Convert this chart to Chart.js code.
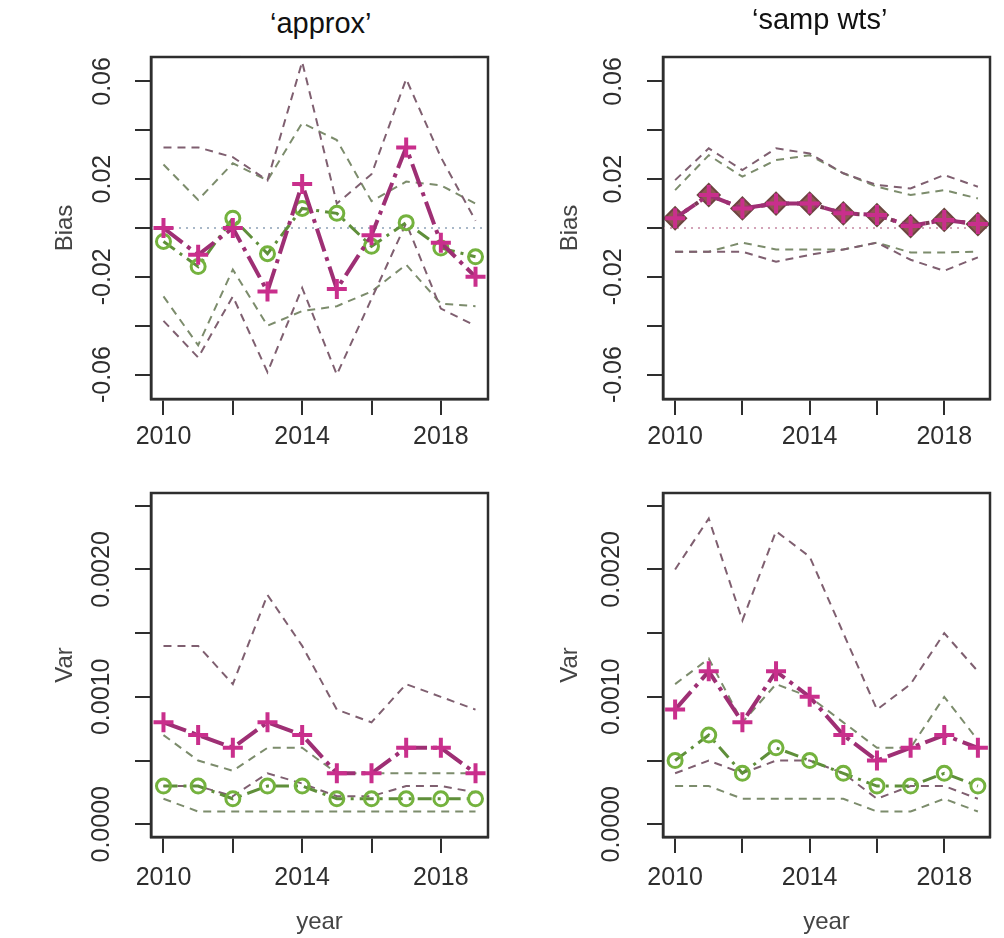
<!DOCTYPE html>
<html>
<head>
<meta charset="utf-8">
<script src="https://cdn.jsdelivr.net/npm/chart.js@4.4.1/dist/chart.umd.min.js"></script>
<style>
  html, body { margin: 0; padding: 0; background: #fff; }
  #wrap { position: relative; width: 1004px; height: 938px; background: #fff; overflow: hidden; }
  canvas { position: absolute; }
  .box { position: absolute; background: #fff; }
  .ttl { position: absolute; font-family: "Liberation Sans", Arial, sans-serif; color: #111; white-space: nowrap; }
</style>
</head>
<body>
<div id="wrap">
  <canvas id="cTL" width="502" height="470" style="left:0;top:0"></canvas>
  <canvas id="cTR" width="502" height="470" style="left:502px;top:0"></canvas>
  <canvas id="cBL" width="502" height="468" style="left:0;top:470px"></canvas>
  <canvas id="cBR" width="502" height="468" style="left:502px;top:470px"></canvas>
  <div class="box" style="left:241px;top:0;width:212px;height:56px;border-bottom:1px solid #cfcfcf;box-sizing:border-box;"></div>
  <div id="t1" class="ttl" style="left:270px;top:4px;font-size:29px;line-height:38px;"></div>
  <div id="t2" class="ttl" style="left:752px;top:0px;font-size:29px;line-height:38px;"></div>
</div>
<script>
// ---------------- data ----------------
const years = [2010, 2011, 2012, 2013, 2014, 2015, 2016, 2017, 2018, 2019];

const xTicks = [2010, 2012, 2014, 2016, 2018];
const xTickLabels = ['2010', '', '2014', '', '2018'];

const biasTicks = [-0.06, -0.04, -0.02, 0, 0.02, 0.04, 0.06];
const biasTickLabels = ['-0.06', '', '-0.02', '', '0.02', '', '0.06'];
const varTicks = [0, 0.0005, 0.001, 0.0015, 0.002, 0.0025];
const varTickLabels = ['0.0000', '', '0.0010', '', '0.0020', ''];

const panelTitles = ['‘approx’', '‘samp wts’'];
const yTitles = ['Bias', 'Var'];
const xTitle = 'year';

// 'approx' - Bias
const approxBiasPink    = [0.000, -0.011, 0.000, -0.026, 0.018, -0.025, -0.003, 0.033, -0.006, -0.020];
const approxBiasPinkHi  = [0.033, 0.033, 0.029, 0.0195, 0.068, 0.010, 0.022, 0.061, 0.029, 0.003];
const approxBiasPinkLo  = [-0.038, -0.053, -0.028, -0.059, -0.0245, -0.060, -0.029, 0.002, -0.033, -0.040];
const approxBiasGreen   = [-0.0055, -0.0158, 0.004, -0.0105, 0.008, 0.006, -0.0075, 0.0022, -0.0082, -0.0118];
const approxBiasGreenHi = [0.026, 0.0115, 0.0265, 0.0195, 0.043, 0.036, 0.011, 0.019, 0.0175, 0.010];
const approxBiasGreenLo = [-0.028, -0.048, -0.017, -0.040, -0.034, -0.032, -0.026, -0.015, -0.031, -0.032];

// 'samp wts' - Bias
const sampBiasPink    = [0.004, 0.0135, 0.008, 0.010, 0.010, 0.006, 0.0053, 0.0008, 0.0033, 0.0016];
const sampBiasPinkHi  = [0.0196, 0.0326, 0.0237, 0.0326, 0.0305, 0.0224, 0.0176, 0.0162, 0.0217, 0.0169];
const sampBiasPinkLo  = [-0.0097, -0.0097, -0.0097, -0.0138, -0.011, -0.0088, -0.006, -0.013, -0.0175, -0.012];
const sampBiasGreen   = [0.004, 0.0135, 0.008, 0.010, 0.010, 0.006, 0.0053, 0.0008, 0.0033, 0.0016];
const sampBiasGreenHi = [0.0155, 0.0298, 0.021, 0.0278, 0.0298, 0.0224, 0.0169, 0.0135, 0.0155, 0.0121];
const sampBiasGreenLo = [-0.0097, -0.0097, -0.006, -0.0088, -0.0088, -0.0088, -0.006, -0.010, -0.010, -0.0097];

// 'approx' - Var
const approxVarPink    = [0.0008, 0.0007, 0.0006, 0.0008, 0.0007, 0.0004, 0.0004, 0.0006, 0.0006, 0.0004];
const approxVarPinkHi  = [0.0014, 0.0014, 0.0011, 0.0018, 0.0014, 0.0009, 0.0008, 0.0011, 0.0010, 0.0009];
const approxVarPinkLo  = [0.0003, 0.0003, 0.00022, 0.0004, 0.00032, 0.00022, 0.00022, 0.0003, 0.0003, 0.00025];
const approxVarGreen   = [0.0003, 0.0003, 0.0002, 0.0003, 0.0003, 0.0002, 0.0002, 0.0002, 0.0002, 0.0002];
const approxVarGreenHi = [0.0007, 0.0005, 0.00042, 0.0006, 0.0006, 0.0004, 0.0004, 0.0004, 0.0004, 0.0004];
const approxVarGreenLo = [0.0002, 0.0001, 0.0001, 0.0001, 0.0001, 0.0001, 0.0001, 0.0001, 0.0001, 0.0001];

// 'samp wts' - Var
const sampVarPink    = [0.0009, 0.0012, 0.0008, 0.0012, 0.0010, 0.0007, 0.0005, 0.0006, 0.0007, 0.0006];
const sampVarPinkHi  = [0.0020, 0.0024, 0.0016, 0.0023, 0.0021, 0.0015, 0.0009, 0.0011, 0.0015, 0.0012];
const sampVarPinkLo  = [0.0004, 0.0005, 0.0004, 0.0005, 0.0005, 0.0004, 0.0002, 0.0003, 0.0003, 0.0002];
const sampVarGreen   = [0.0005, 0.0007, 0.0004, 0.0006, 0.0005, 0.0004, 0.0003, 0.0003, 0.0004, 0.0003];
const sampVarGreenHi = [0.0011, 0.0013, 0.0008, 0.0011, 0.0010, 0.0008, 0.0006, 0.0006, 0.0010, 0.00066];
const sampVarGreenLo = [0.0003, 0.0003, 0.0002, 0.0002, 0.0002, 0.0002, 0.0001, 0.0001, 0.0002, 0.0001];

const zeroLine = 0;

document.getElementById('t1').textContent = panelTitles[0];
document.getElementById('t2').textContent = panelTitles[1];

// ---------------- styling ----------------
const FONT = '"Liberation Sans", Arial, sans-serif';
const AX = '#2e2e2e';
const PINK_LINE = '#9e2f74';
const PINK_MARK = '#c92f8c';
const GREEN_LINE = '#5f8f3a';
const GREEN_MARK = '#74b23e';
const PINK_BOUND = '#7f5f70';
const GREEN_BOUND = '#7c8c6c';

const xMin = 2009.64, xMax = 2019.36;

function pts(arr) { return years.map((y, i) => ({ x: y, y: arr[i] })); }

function boundDs(arr, color, order) {
  return { data: pts(arr), borderColor: color, borderWidth: 2, borderDash: [8, 6],
           pointRadius: 0, fill: false, tension: 0, order: order };
}
function pinkDs(arr) {
  return { data: pts(arr), borderColor: PINK_LINE, borderWidth: 4, borderDash: [24, 6, 4, 6],
           pointStyle: 'cross', pointRadius: 10, pointBorderWidth: 4, pointBorderColor: PINK_MARK,
           pointBackgroundColor: PINK_MARK, fill: false, tension: 0, order: 0 };
}
function greenDs(arr, diamond) {
  if (diamond) {
    return { data: pts(arr), borderColor: '#7a3a55', borderWidth: 4, borderDash: [4, 8],
             pointStyle: 'rectRot', pointRadius: 11, pointBorderWidth: 2, pointBorderColor: '#6b4640',
             pointBackgroundColor: '#8e5752', fill: false, tension: 0, order: 1 };
  }
  return { data: pts(arr), borderColor: GREEN_LINE, borderWidth: 3, borderDash: [14, 6, 3, 6],
           pointStyle: 'circle', pointRadius: 7, pointBorderWidth: 3, pointBorderColor: GREEN_MARK,
           pointBackgroundColor: 'rgba(255,255,255,0)', fill: false, tension: 0, order: 1 };
}

function framePlugin(cfg) {
  return {
    id: 'frame',
    beforeDatasetsDraw(chart) {
      if (cfg.zero) {
        const { ctx, chartArea: a, scales } = chart;
        const y = scales.y.getPixelForValue(zeroLine);
        ctx.save();
        ctx.strokeStyle = cfg.zeroColor;
        ctx.lineWidth = 2;
        ctx.setLineDash([2, 5]);
        ctx.beginPath(); ctx.moveTo(a.left, y); ctx.lineTo(a.right, y); ctx.stroke();
        ctx.restore();
      }
    },
    afterDraw(chart) {
      const { ctx, chartArea: a } = chart;
      ctx.save();
      ctx.strokeStyle = AX;
      ctx.lineWidth = 2.5;
      ctx.strokeRect(a.left, a.top, a.right - a.left, a.bottom - a.top);
      ctx.restore();
    }
  };
}

function panel(id, cfg) {
  return new Chart(document.getElementById(id), {
    type: 'line',
    data: { datasets: cfg.datasets },
    options: {
      responsive: false,
      animation: false,
      events: [],
      layout: { padding: { left: 0, top: cfg.padTop, right: cfg.padRight, bottom: 0 } },
      plugins: { legend: { display: false }, tooltip: { enabled: false }, title: { display: false } },
      scales: {
        x: {
          type: 'linear', min: xMin, max: xMax,
          afterBuildTicks: s => { s.ticks = xTicks.map(v => ({ value: v })); },
          afterFit: s => { s.height = cfg.xHeight; },
          grid: { drawOnChartArea: false, drawTicks: true, tickLength: 16, color: AX, lineWidth: 2 },
          border: { display: true, color: AX, width: 2.5 },
          ticks: { autoSkip: false, maxRotation: 0, minRotation: 0, padding: cfg.xPad, color: AX,
                   font: { family: FONT, size: 25 }, callback: (v, i) => xTickLabels[i] },
          title: { display: !!cfg.xTitle, text: cfg.xTitle || '', color: '#444',
                   font: { family: FONT, size: 24 }, padding: { top: 0, bottom: 1 } }
        },
        y: {
          type: 'linear', min: cfg.yMin, max: cfg.yMax,
          afterBuildTicks: s => { s.ticks = cfg.yTicks.map(v => ({ value: v })); },
          afterFit: s => { s.width = cfg.yWidth; },
          grid: { drawOnChartArea: false, drawTicks: true, tickLength: 16, color: AX, lineWidth: 2 },
          border: { display: true, color: AX, width: 2.5 },
          ticks: { autoSkip: false, minRotation: 90, maxRotation: 90, crossAlign: 'center',
                   padding: cfg.yPad, color: AX, font: { family: FONT, size: 25 },
                   callback: (v, i) => cfg.yTickLabels[i] },
          title: { display: true, text: cfg.yTitle, color: '#444',
                   font: { family: FONT, size: 24 }, padding: { top: cfg.yTitlePad, bottom: 0 } }
        }
      }
    },
    plugins: [framePlugin(cfg)]
  });
}

panel('cTL', {
  padTop: 57, padRight: 10, xHeight: 71, yWidth: 151, xPad: 7, yPad: 3,
  yMin: -0.07, yMax: 0.07, yTicks: biasTicks, yTickLabels: biasTickLabels,
  yTitle: yTitles[0], yTitlePad: 50.6, zero: true, zeroColor: '#a9b8c8',
  datasets: [
    pinkDs(approxBiasPink), greenDs(approxBiasGreen),
    boundDs(approxBiasPinkHi, PINK_BOUND, 2), boundDs(approxBiasPinkLo, PINK_BOUND, 3),
    boundDs(approxBiasGreenHi, GREEN_BOUND, 4), boundDs(approxBiasGreenLo, GREEN_BOUND, 5)
  ]
});
panel('cTR', {
  padTop: 57, padRight: 1, xHeight: 71, yWidth: 161, xPad: 7, yPad: 4,
  yMin: -0.07, yMax: 0.07, yTicks: biasTicks, yTickLabels: biasTickLabels,
  yTitle: yTitles[0], yTitlePad: 53.6, zero: true, zeroColor: '#d3a4b8',
  datasets: [
    pinkDs(sampBiasPink), greenDs(sampBiasGreen, true),
    boundDs(sampBiasPinkHi, PINK_BOUND, 2), boundDs(sampBiasPinkLo, PINK_BOUND, 3),
    boundDs(sampBiasGreenHi, GREEN_BOUND, 4), boundDs(sampBiasGreenLo, GREEN_BOUND, 5)
  ]
});
panel('cBL', {
  padTop: 23, padRight: 10, xHeight: 101, yWidth: 151, xPad: 10, yPad: -5,
  yMin: -0.0001, yMax: 0.0026, yTicks: varTicks, yTickLabels: varTickLabels,
  yTitle: yTitles[1], yTitlePad: 50.6, xTitle: xTitle,
  datasets: [
    pinkDs(approxVarPink), greenDs(approxVarGreen),
    boundDs(approxVarPinkHi, PINK_BOUND, 2), boundDs(approxVarPinkLo, PINK_BOUND, 3),
    boundDs(approxVarGreenHi, GREEN_BOUND, 4), boundDs(approxVarGreenLo, GREEN_BOUND, 5)
  ]
});
panel('cBR', {
  padTop: 23, padRight: 1, xHeight: 101, yWidth: 161, xPad: 10, yPad: -3,
  yMin: -0.0001, yMax: 0.0026, yTicks: varTicks, yTickLabels: varTickLabels,
  yTitle: yTitles[1], yTitlePad: 53.6, xTitle: xTitle,
  datasets: [
    pinkDs(sampVarPink), greenDs(sampVarGreen),
    boundDs(sampVarPinkHi, PINK_BOUND, 2), boundDs(sampVarPinkLo, PINK_BOUND, 3),
    boundDs(sampVarGreenHi, GREEN_BOUND, 4), boundDs(sampVarGreenLo, GREEN_BOUND, 5)
  ]
});
</script>
</body>
</html>
